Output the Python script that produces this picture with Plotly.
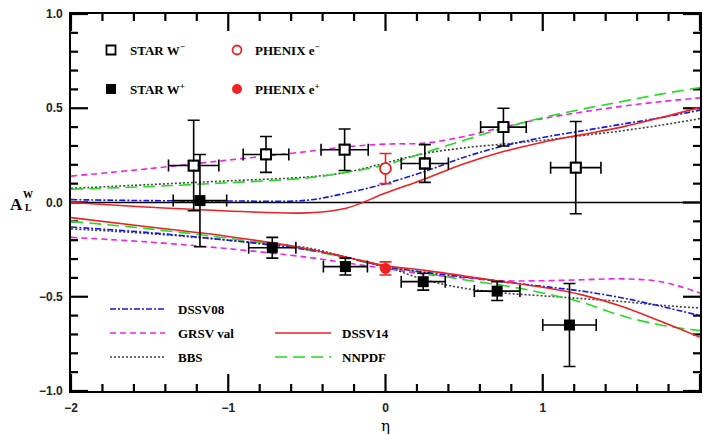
import plotly.graph_objects as go

# ---------------- data ----------------
eta_curve = [-2.0, -1.5, -1.0, -0.5, -0.25, 0.0, 0.25, 0.5, 0.75, 1.0, 1.25, 1.5, 1.75, 2.0]

# W- (positive branch)
dssv08_wm = [0.015, 0.01, 0.008, 0.012, 0.05, 0.10, 0.165, 0.24, 0.30, 0.345, 0.38, 0.415, 0.45, 0.49]
grsv_wm   = [0.14, 0.18, 0.225, 0.27, 0.295, 0.31, 0.315, 0.35, 0.40, 0.445, 0.48, 0.51, 0.535, 0.555]
bbs_wm    = [0.075, 0.095, 0.115, 0.135, 0.16, 0.21, 0.26, 0.29, 0.31, 0.33, 0.355, 0.38, 0.41, 0.445]
dssv14_wm = [0.0, -0.025, -0.045, -0.055, -0.03, 0.05, 0.125, 0.205, 0.27, 0.32, 0.36, 0.40, 0.45, 0.505]
nnpdf_wm  = [0.07, 0.085, 0.105, 0.13, 0.16, 0.20, 0.265, 0.33, 0.395, 0.45, 0.495, 0.535, 0.575, 0.61]

# W+ (negative branch)
dssv08_wp = [-0.13, -0.16, -0.20, -0.25, -0.29, -0.34, -0.37, -0.395, -0.42, -0.445, -0.47, -0.505, -0.55, -0.60]
grsv_wp   = [-0.185, -0.21, -0.245, -0.29, -0.32, -0.35, -0.38, -0.40, -0.415, -0.415, -0.41, -0.405, -0.42, -0.48]
bbs_wp    = [-0.14, -0.165, -0.20, -0.24, -0.29, -0.34, -0.41, -0.455, -0.48, -0.495, -0.51, -0.525, -0.545, -0.56]
dssv14_wp = [-0.08, -0.13, -0.18, -0.245, -0.29, -0.335, -0.36, -0.39, -0.42, -0.45, -0.49, -0.55, -0.63, -0.715]
nnpdf_wp  = [-0.10, -0.14, -0.19, -0.25, -0.295, -0.34, -0.375, -0.41, -0.44, -0.48, -0.53, -0.60, -0.65, -0.68]

# STAR W-
star_wm_eta  = [-1.22, -0.76, -0.26, 0.25, 0.75, 1.21]
star_wm_val  = [0.196, 0.255, 0.28, 0.207, 0.40, 0.185]
star_wm_err  = [0.24, 0.095, 0.11, 0.10, 0.10, 0.245]
star_wm_xerr = [0.16, 0.145, 0.15, 0.15, 0.145, 0.16]

# STAR W+
star_wp_eta  = [-1.18, -0.72, -0.255, 0.24, 0.71, 1.17]
star_wp_val  = [0.01, -0.24, -0.34, -0.42, -0.47, -0.65]
star_wp_err  = [0.245, 0.055, 0.045, 0.045, 0.05, 0.22]
star_wp_xerr = [0.17, 0.15, 0.14, 0.14, 0.145, 0.17]

# PHENIX
phenix_em_eta, phenix_em_val, phenix_em_err = [0.0], [0.18], [0.08]
phenix_ep_eta, phenix_ep_val, phenix_ep_err = [0.0], [-0.35], [0.035]

x_tickvals = [-2, -1, 0, 1, 2]
x_ticktext = ["−2", "−1", "0", "1", "2"]
y_tickvals = [-1, -0.5, 0, 0.5, 1]
y_ticktext = ["−1.0", "−0.5", "0.0", "0.5", "1.0"]
x_minor_step, y_minor_step = 0.2, 0.1

# -------------- styling --------------
W, H = 703, 435
L, R, T, B = 71, 700, 14, 391
XR, YR = (-2, 2), (-1, 1)
def px(x):  # pixel -> paper x
    return (x - L) / (R - L)
def py(y):  # pixel -> paper y
    return (B - y) / (B - T)

BLUE, MAG, BLK, RED, GRN = "#1515ee", "#ee22ee", "#444444", "#ee2222", "#22dd22"
styles = {
    "DSSV08": (BLUE, "6px,2px,2px,2px"),
    "GRSV val": (MAG, "6px,4px"),
    "BBS": (BLK, "2px,2px"),
    "DSSV14": (RED, "solid"),
    "NNPDF": (GRN, "12px,6px"),
}
curves = [
    ("GRSV val", grsv_wm, grsv_wp),
    ("BBS", bbs_wm, bbs_wp),
    ("NNPDF", nnpdf_wm, nnpdf_wp),
    ("DSSV08", dssv08_wm, dssv08_wp),
    ("DSSV14", dssv14_wm, dssv14_wp),
]

fig = go.Figure()

# -------------- axis ticks on all four sides (derived from tick arrays) --------------
MAJ, MIN = 17, 7
ux = (XR[1] - XR[0]) / (R - L)   # data units per px, x
uy = (YR[1] - YR[0]) / (B - T)   # data units per px, y
nx = int(round((XR[1] - XR[0]) / x_minor_step))
ny = int(round((YR[1] - YR[0]) / y_minor_step))
tick_segments = []
for i in range(nx + 1):
    v = round(XR[0] + i * x_minor_step, 6)
    ln = (MAJ if any(abs(v - t) < 1e-9 for t in x_tickvals) else MIN) * uy
    tick_segments.append(([v, v], [YR[0], YR[0] + ln]))
    tick_segments.append(([v, v], [YR[1], YR[1] - ln]))
for i in range(ny + 1):
    v = round(YR[0] + i * y_minor_step, 6)
    ln = (MAJ if any(abs(v - t) < 1e-9 for t in y_tickvals) else MIN) * ux
    tick_segments.append(([XR[0], XR[0] + ln], [v, v]))
    tick_segments.append(([XR[1], XR[1] - ln], [v, v]))
for sx, sy in tick_segments:
    fig.add_trace(go.Scatter(x=sx, y=sy, mode="lines", line=dict(color="black", width=2.2),
                             showlegend=False, hoverinfo="skip", cliponaxis=False))

for name, wm, wp in curves:
    col, dash = styles[name]
    for ys in (wm, wp):
        fig.add_trace(go.Scatter(x=eta_curve, y=ys, mode="lines", line_shape="spline",
                                 line=dict(color=col, width=1.6, dash=dash),
                                 showlegend=False, hoverinfo="skip"))

eb = dict(color="black", thickness=1.6, width=6)
fig.add_trace(go.Scatter(x=star_wm_eta, y=star_wm_val, mode="markers",
                         marker=dict(symbol="square-open", size=10, color="black", line=dict(width=1.8)),
                         error_y=dict(type="data", array=star_wm_err, **eb),
                         error_x=dict(type="data", array=star_wm_xerr, **eb),
                         showlegend=False))
fig.add_trace(go.Scatter(x=star_wm_eta, y=star_wm_val, mode="markers",
                         marker=dict(symbol="square", size=8, color="white", line=dict(width=0)),
                         showlegend=False, hoverinfo="skip"))
fig.add_trace(go.Scatter(x=star_wm_eta, y=star_wm_val, mode="markers",
                         marker=dict(symbol="square-open", size=10, color="black", line=dict(width=1.8)),
                         showlegend=False, hoverinfo="skip"))
fig.add_trace(go.Scatter(x=star_wp_eta, y=star_wp_val, mode="markers",
                         marker=dict(symbol="square", size=11, color="black"),
                         error_y=dict(type="data", array=star_wp_err, **eb),
                         error_x=dict(type="data", array=star_wp_xerr, **eb),
                         showlegend=False))
ebr = dict(color=RED, thickness=1.6, width=6)
fig.add_trace(go.Scatter(x=phenix_em_eta, y=phenix_em_val, mode="markers",
                         marker=dict(symbol="circle", size=11, color="white", line=dict(color=RED, width=1.8)),
                         error_y=dict(type="data", array=phenix_em_err, **ebr),
                         showlegend=False))
fig.add_trace(go.Scatter(x=phenix_ep_eta, y=phenix_ep_val, mode="markers",
                         marker=dict(symbol="circle", size=11, color=RED),
                         error_y=dict(type="data", array=phenix_ep_err, **ebr),
                         showlegend=False))

# -------------- legends (drawn in paper coords) --------------
LF = dict(family="Liberation Serif", size=13, color="black", weight="bold")
shapes = []
annotations = []

def label(x, y, text, font=LF, xanchor="left"):
    annotations.append(dict(x=px(x), y=py(y), xref="paper", yref="paper", text=text,
                            showarrow=False, xanchor=xanchor, yanchor="middle", font=font))

shapes.append(dict(type="rect", xref="paper", yref="paper", x0=px(106.5), x1=px(115.5), y0=py(45.5), y1=py(54.5),
                   line=dict(color="black", width=1.8), fillcolor="white"))
shapes.append(dict(type="rect", xref="paper", yref="paper", x0=px(106), x1=px(116), y0=py(84), y1=py(94),
                   line=dict(color="black", width=0), fillcolor="black"))
shapes.append(dict(type="circle", xref="paper", yref="paper", x0=px(232.5), x1=px(241.5), y0=py(45.5), y1=py(54.5),
                   line=dict(color=RED, width=1.8), fillcolor="white"))
shapes.append(dict(type="circle", xref="paper", yref="paper", x0=px(232), x1=px(242), y0=py(84), y1=py(94),
                   line=dict(color=RED, width=0), fillcolor=RED))
label(128, 50, "STAR W<sup>−</sup>")
label(128, 89, "STAR W<sup>+</sup>")
label(253, 50, "PHENIX e<sup>−</sup>")
label(253, 89, "PHENIX e<sup>+</sup>")

leg_items = [("DSSV08", 110, 165, 309, 176), ("GRSV val", 110, 165, 333, 176), ("BBS", 110, 165, 357, 176),
             ("DSSV14", 275, 331, 333, 340), ("NNPDF", 275, 331, 357, 340)]
for name, x0, x1, yy, xl in leg_items:
    col, dash = styles[name]
    shapes.append(dict(type="line", xref="paper", yref="paper", x0=px(x0), x1=px(x1), y0=py(yy), y1=py(yy),
                       line=dict(color=col, width=1.6, dash=dash)))
    label(xl, yy, name)

# y-axis label A_L^W
AF = dict(family="Liberation Serif", size=17, color="black", weight="bold")
SF = dict(family="Liberation Serif", size=10, color="black", weight="bold")
label(16, 204, "A", font=AF, xanchor="center")
label(28, 194, "W", font=SF, xanchor="center")
label(28, 207, "L", font=SF, xanchor="center")
annotations.append(dict(x=0, y=py(426), xref="x", yref="paper", text="η", showarrow=False,
                        font=dict(family="DejaVu Serif", size=15, color="black"), yanchor="middle"))

TF = dict(family="Liberation Sans", size=12, color="#222222", weight="bold")
axis_common = dict(showgrid=False, ticks="", showline=True, linecolor="black", linewidth=1.6,
                   mirror=True, tickfont=TF, zeroline=False, automargin=False)

fig.update_layout(
    width=W, height=H,
    margin=dict(l=L, r=W - R, t=T, b=H - B, autoexpand=False),
    paper_bgcolor="white", plot_bgcolor="white",
    shapes=shapes, annotations=annotations,
    xaxis=dict(range=list(XR), tickvals=x_tickvals, ticktext=x_ticktext, ticklabelstandoff=5, **axis_common),
    yaxis=dict(range=list(YR), tickvals=y_tickvals, ticktext=y_ticktext, ticklabelstandoff=4, **axis_common),
    showlegend=False,
)
fig.add_hline(y=0, line=dict(color="black", width=1.6), layer="below")

fig.write_html("out.html", config={"displayModeBar": False},
               post_script="document.body.style.margin='0';document.body.style.overflow='hidden';")
